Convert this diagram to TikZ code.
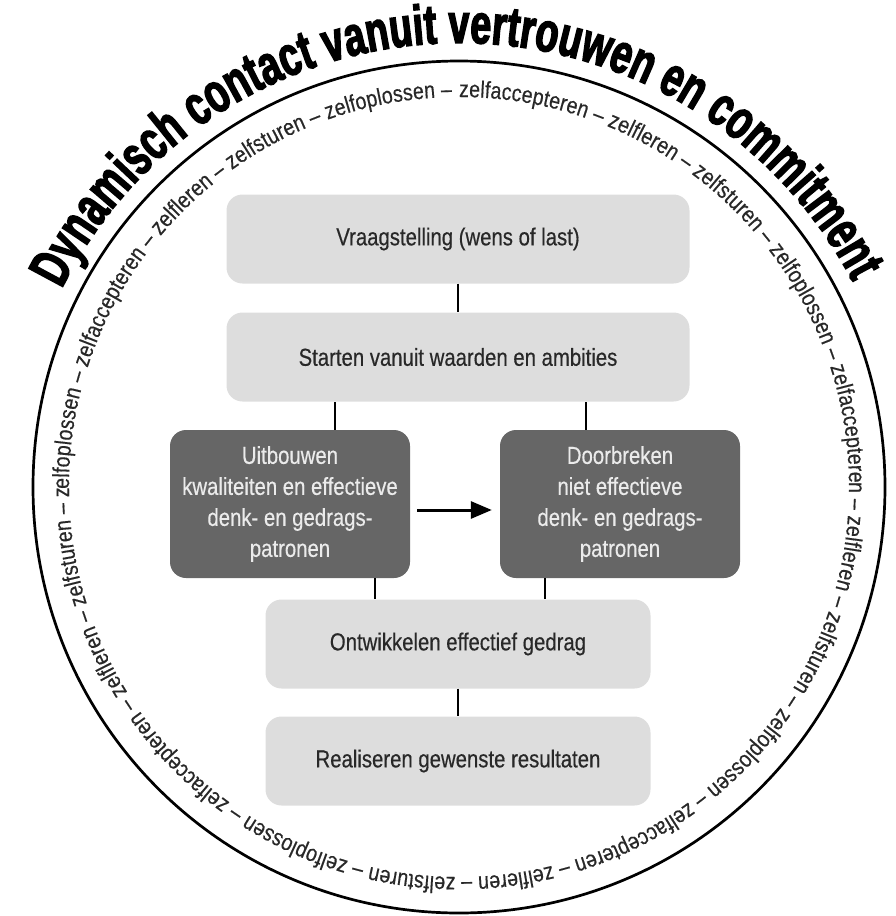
\documentclass[tikz,border=0pt]{standalone}
\usepackage{fontspec}
\usepackage{tikz}
\usetikzlibrary{arrows.meta,decorations.text}
\newfontfamily\boxsf[FakeStretch=0.83,FakeBold=0.4]{Liberation Sans}
\newfontfamily\titlesf[FakeStretch=0.67,FakeBold=2.5]{Liberation Sans}
\definecolor{boxlight}{RGB}{221,221,221}
\definecolor{boxdark}{RGB}{102,102,102}
\definecolor{inktext}{RGB}{40,40,40}
\newcommand\titlefont{\titlesf\bfseries\fontsize{56}{56}\selectfont}
\newcommand\ringfont{\boxsf\fontsize{23.5}{23.5}\selectfont}
\tikzset{
  lightbox/.style={fill=boxlight, text=inktext, rounded corners=16pt, minimum height=89pt, align=center, font=\boxsf\fontsize{24.5}{31}\selectfont},
  darkbox/.style={fill=boxdark, text=black!8, rounded corners=16pt, minimum width=240pt, minimum height=148pt, align=center, font=\boxsf\fontsize{24.5}{31}\selectfont},
  link/.style={line width=2.4pt},
  flow/.style={-{Triangle[length=21pt,width=17pt]}, line width=3pt},
  ring/.style={draw, circle, line width=2.7pt, minimum size=852pt, inner sep=0pt}
}

\begin{document}
\begin{tikzpicture}[x=1pt,y=1pt]
  \useasboundingbox (0,0) rectangle (896,-916);
  \node[ring] (ring) at (459,-487) {};
  % title above the circle
  \path[decorate, decoration={text along path, text align=fit to path,
      text={|\titlefont|Dynamisch contact vanuit vertrouwen en commitment}}]
    ([shift={(153.5:444)}]ring.center) arc[start angle=153.5, end angle=27.5, radius=444];
  % words round the inside
  \path[decorate, decoration={text along path, text align=fit to path, text color=inktext,
      text={|\ringfont|zelfaccepteren – zelfleren – zelfsturen – zelfoplossen – zelfaccepteren – zelfleren – zelfsturen – zelfoplossen – zelfaccepteren – zelfleren – zelfsturen – zelfoplossen – zelfaccepteren – zelfleren – zelfsturen – zelfoplossen – zelfaccepteren – zelfleren – zelfsturen – zelfoplossen –}}]
    ([shift={(90:390)}]ring.center) arc[start angle=90, end angle=-268.8, radius=390];

  \node[lightbox, minimum width=463pt] (vraag) at (458,-239) {Vraagstelling (wens of last)};
  \node[lightbox, minimum width=463pt] (start) at (458,-357) {Starten vanuit waarden en ambities};
  \node[darkbox] (uitbouw) at (290,-504) {Uitbouwen\\kwaliteiten en effectieve\\denk- en gedrags-\\patronen};
  \node[darkbox] (doorbreek) at (620,-504) {Doorbreken\\niet effectieve\\denk- en gedrags-\\patronen};
  \node[lightbox, minimum width=385pt] (ontwikkel) at (458,-644) {Ontwikkelen effectief gedrag};
  \node[lightbox, minimum width=385pt] (realiseer) at (458,-761) {Realiseren gewenste resultaten};

  \draw[link] (vraag) -- (start);
  \draw[link] ([xshift=45pt]uitbouw.north) -- ([xshift=45pt]uitbouw.north |- start.south);
  \draw[link] ([xshift=-34pt]doorbreek.north) -- ([xshift=-34pt]doorbreek.north |- start.south);
  \draw[link] ([xshift=85pt]uitbouw.south) -- ([xshift=85pt]uitbouw.south |- ontwikkel.north);
  \draw[link] ([xshift=-75pt]doorbreek.south) -- ([xshift=-75pt]doorbreek.south |- ontwikkel.north);
  \draw[link] (ontwikkel) -- (realiseer);
  \draw[flow, shorten <=7pt, shorten >=8pt] ([yshift=-6pt]uitbouw.east) -- ([yshift=-6pt]doorbreek.west);
\end{tikzpicture}
\end{document}
